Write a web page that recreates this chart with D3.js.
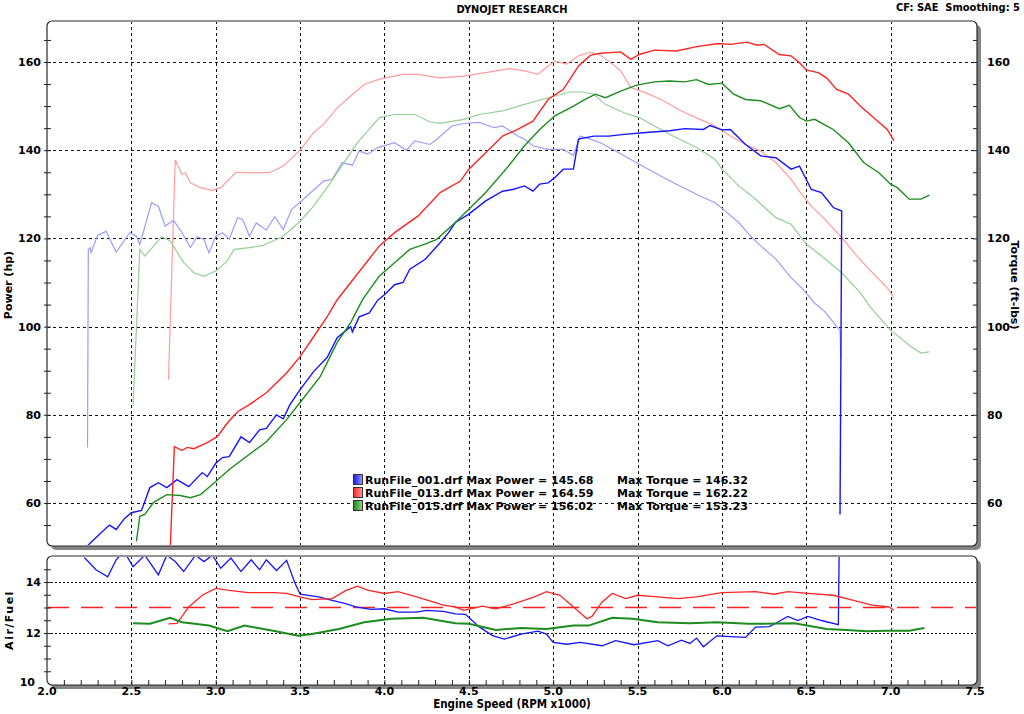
<!DOCTYPE html>
<html>
<head>
<meta charset="utf-8">
<script src="https://cdn.jsdelivr.net/npm/d3@7"></script>
<style>
body { margin: 0; background: #fff; }
text { font-family: "DejaVu Sans", Verdana, sans-serif; font-weight: bold; fill: #000; }
</style>
</head>
<body>
<div id="chart"></div>
<script>
// run names + summary numbers for the legend
var runNames = ["RunFile_001.drf", "RunFile_013.drf", "RunFile_015.drf"];
var maxPower = ["145.68", "164.59", "156.02"];
var maxTorque = ["146.32", "162.22", "153.23"];

// tick labels
var xTicks = [2.0, 2.5, 3.0, 3.5, 4.0, 4.5, 5.0, 5.5, 6.0, 6.5, 7.0, 7.5];
var hpTicks = [60, 80, 100, 120, 140, 160];
var afrTicks = [10, 12, 14];

// [rpm x1000, value]
var power001 = [[2.23,49.5],[2.24,50.3],[2.30,52.5],[2.37,55],[2.41,54],[2.46,56.5],[2.50,57.8],[2.56,58.3],[2.61,63.5],[2.66,64.6],[2.71,63.5],[2.77,65.3],[2.84,63.7],[2.92,66.9],[2.95,66],[3.00,69],[3.04,70.3],[3.08,70.5],[3.15,75],[3.20,73.7],[3.26,76.6],[3.30,76.9],[3.36,80],[3.40,79.1],[3.44,82.3],[3.50,85.7],[3.58,89.8],[3.66,93],[3.72,97.5],[3.80,100],[3.81,98.8],[3.85,102.2],[3.91,103.1],[3.96,106],[4.0,107.2],[4.06,109.5],[4.11,110],[4.15,113],[4.24,115.2],[4.33,119],[4.38,121.3],[4.42,123.6],[4.50,125.5],[4.60,128.5],[4.70,130.7],[4.76,131.1],[4.83,131.9],[4.88,130.7],[4.92,132.3],[4.97,132.6],[5.01,133.8],[5.06,135.7],[5.12,135.7],[5.13,138],[5.15,142.5],[5.24,143.2],[5.33,143.2],[5.42,143.6],[5.55,144],[5.69,144.4],[5.78,144.9],[5.89,144.7],[5.93,145.6],[6.0,144.6],[6.05,144.7],[6.14,141.3],[6.23,138.7],[6.32,138.3],[6.41,135.7],[6.46,136.4],[6.53,131.1],[6.59,130.4],[6.66,127],[6.71,126.2],[6.70,57.4]];
var torque001 = [[2.24,72.6],[2.245,117.5],[2.256,117.9],[2.26,116.7],[2.30,120.7],[2.35,121.6],[2.41,116.9],[2.49,121.3],[2.53,120.5],[2.55,118.6],[2.62,128.1],[2.66,127.3],[2.70,122.8],[2.75,124.1],[2.80,121.3],[2.85,117.9],[2.89,120.4],[2.93,119.8],[2.96,116.7],[3.0,120.5],[3.04,121.3],[3.08,119.8],[3.13,124.7],[3.16,124.3],[3.20,120.5],[3.24,123.5],[3.30,121.9],[3.35,124.9],[3.40,122],[3.45,126.6],[3.50,128.2],[3.56,130.3],[3.64,133],[3.69,133.4],[3.75,137.2],[3.81,136.6],[3.85,139.8],[3.90,139.1],[3.96,140.6],[4.06,141.7],[4.13,140],[4.18,142.1],[4.27,141.3],[4.31,142.5],[4.40,145.5],[4.46,146],[4.56,146.3],[4.65,145.1],[4.70,145.5],[4.79,143.2],[4.83,142.5],[4.88,141],[4.97,140.2],[5.06,140.2],[5.12,138.8],[5.16,143.2],[5.22,142.5],[5.28,141.7],[5.37,139.8],[5.51,136.8],[5.64,134.1],[5.73,132.3],[5.87,129.6],[5.96,128.1],[6.0,126.8],[6.10,123.6],[6.16,120.9],[6.23,118.3],[6.32,115.3],[6.41,111.1],[6.48,108.5],[6.55,105.3],[6.61,103.4],[6.68,100],[6.70,99.2],[6.705,92.8]];
var power013 = [[2.73,49.5],[2.755,72.8],[2.80,71.9],[2.83,72.6],[2.87,72.3],[2.95,73.7],[3.01,75.1],[3.07,78.2],[3.13,80.7],[3.20,82.3],[3.30,85],[3.42,89.5],[3.50,93.2],[3.58,97.7],[3.66,102.2],[3.72,106.1],[3.97,118.3],[4.06,121.3],[4.20,125.1],[4.33,130.4],[4.45,133],[4.50,135.7],[4.60,139.4],[4.70,143.2],[4.79,144.7],[4.88,146.6],[4.97,151.5],[5.06,153.8],[5.10,156.1],[5.15,159.1],[5.22,161.5],[5.28,162],[5.40,162.3],[5.46,160.6],[5.51,161.7],[5.60,162.7],[5.73,162.5],[5.85,163.5],[5.98,164.2],[6.05,164],[6.15,164.5],[6.21,163.8],[6.25,164],[6.34,161.7],[6.41,161.4],[6.46,159.8],[6.50,158.2],[6.57,157.6],[6.62,156.4],[6.68,153.8],[6.75,152.7],[6.82,150],[6.91,147],[6.98,144.7],[7.02,142.1]];
var torque013 = [[2.72,88],[2.76,137.8],[2.80,134.5],[2.82,134.9],[2.85,132.6],[2.91,131.5],[2.98,130.9],[3.03,131.5],[3.12,135],[3.18,134.9],[3.32,134.9],[3.40,136.4],[3.50,140],[3.58,144],[3.64,145.9],[3.72,149.6],[3.80,152.3],[3.88,154.9],[3.97,156.1],[4.11,157.2],[4.20,157.2],[4.33,156.4],[4.47,156.8],[4.60,157.6],[4.74,158.5],[4.83,158],[4.91,157.2],[4.97,159.1],[5.01,160.2],[5.08,159.5],[5.15,161.4],[5.22,162.2],[5.27,161.7],[5.33,160.2],[5.40,158],[5.46,154.2],[5.55,153],[5.64,151.5],[5.76,148.9],[5.87,147],[5.96,145.5],[6.05,143.2],[6.14,141.3],[6.23,139.8],[6.32,137.2],[6.41,133.4],[6.48,129.6],[6.53,127.3],[6.59,125.1],[6.71,120.2],[6.80,116],[6.91,111.5],[6.98,108.8],[7.02,106.6]];
var power015 = [[2.53,51.3],[2.55,57],[2.58,57.4],[2.63,60.1],[2.71,61.9],[2.79,61.7],[2.85,61.2],[2.91,61.9],[2.98,64.2],[3.08,67.6],[3.18,70.5],[3.30,73.9],[3.42,78.9],[3.50,82.8],[3.62,88.7],[3.72,96.4],[3.80,100.9],[3.87,106.1],[3.97,111.5],[4.06,114.5],[4.15,117.5],[4.24,118.7],[4.31,119.8],[4.42,123.6],[4.50,126.6],[4.60,130.4],[4.72,135.7],[4.83,141],[4.92,144.7],[5.01,147.8],[5.12,150],[5.19,151.5],[5.25,152.7],[5.31,151.9],[5.40,153.4],[5.49,154.7],[5.60,155.5],[5.69,155.7],[5.78,155.5],[5.85,156.0],[5.92,154.9],[6.0,155.2],[6.07,152.7],[6.14,151.5],[6.23,151.2],[6.34,149.4],[6.40,150.2],[6.46,147.4],[6.50,146.6],[6.55,147],[6.66,144.7],[6.75,141.7],[6.84,137.2],[6.93,134.9],[7.0,132.3],[7.04,131.5],[7.11,128.9],[7.18,128.9],[7.23,129.8]];
var torque015 = [[2.51,82],[2.55,117.5],[2.58,116],[2.63,118.2],[2.68,120.4],[2.73,119.4],[2.81,114.5],[2.87,112.2],[2.93,111.4],[3.0,112.6],[3.06,114.5],[3.11,117.5],[3.20,117.9],[3.28,118.4],[3.40,120.5],[3.50,123.9],[3.58,127.3],[3.68,132.6],[3.76,137.2],[3.84,141.7],[3.97,147.4],[4.06,148.1],[4.18,148.1],[4.27,146.4],[4.33,146.1],[4.47,147],[4.56,148.1],[4.70,148.9],[4.83,150.4],[4.97,151.9],[5.10,153.2],[5.17,153.2],[5.24,152.7],[5.31,150.4],[5.42,148.5],[5.51,147.4],[5.60,145.5],[5.71,143.2],[5.85,140.6],[5.96,137.9],[6.0,135.7],[6.10,131.9],[6.19,129.2],[6.32,124.7],[6.41,123.2],[6.50,118.7],[6.59,116],[6.71,112.2],[6.82,107.7],[6.88,104.4],[7.0,99.2],[7.12,95.5],[7.18,94],[7.23,94.3]];
var afr001 = [[2.22,14.95],[2.23,14.9],[2.29,14.48],[2.36,14.2],[2.41,14.87],[2.44,15.1],[2.47,15.05],[2.51,14.6],[2.58,15.05],[2.66,14.28],[2.71,15.05],[2.76,14.8],[2.81,14.41],[2.88,15.05],[2.93,14.8],[2.98,15.05],[3.03,14.54],[3.09,14.94],[3.15,14.41],[3.21,14.87],[3.26,14.48],[3.30,14.87],[3.36,14.45],[3.42,14.85],[3.47,13.95],[3.50,13.52],[3.61,13.42],[3.69,13.28],[3.77,13.15],[3.83,13.02],[3.92,12.93],[4.0,12.95],[4.08,12.82],[4.19,12.82],[4.25,12.89],[4.35,12.85],[4.42,12.75],[4.48,12.73],[4.56,12.25],[4.64,11.9],[4.71,11.76],[4.81,11.96],[4.91,12.07],[4.96,11.96],[5.0,11.63],[5.08,11.56],[5.16,11.63],[5.29,11.5],[5.37,11.7],[5.48,11.54],[5.62,11.7],[5.68,11.5],[5.76,11.72],[5.81,11.59],[5.85,11.8],[5.89,11.46],[5.97,11.89],[6.08,11.85],[6.14,11.83],[6.20,12.23],[6.28,12.25],[6.33,12.42],[6.39,12.65],[6.45,12.49],[6.51,12.65],[6.59,12.49],[6.69,12.33],[6.695,15.2]];
var afr013 = [[2.72,12.36],[2.77,12.38],[2.84,13.02],[2.92,13.48],[3.0,13.75],[3.07,13.68],[3.19,13.58],[3.34,13.58],[3.42,13.55],[3.50,13.42],[3.57,13.31],[3.69,13.35],[3.77,13.66],[3.84,13.84],[3.90,13.68],[4.0,13.55],[4.08,13.62],[4.19,13.42],[4.35,13.09],[4.42,13.02],[4.47,12.89],[4.58,13.05],[4.66,12.95],[4.77,13.15],[4.89,13.42],[4.96,13.62],[5.04,13.48],[5.12,13.02],[5.20,12.56],[5.23,12.65],[5.29,13.22],[5.35,13.55],[5.43,13.35],[5.50,13.48],[5.62,13.42],[5.74,13.35],[5.85,13.42],[6.0,13.58],[6.20,13.62],[6.31,13.52],[6.39,13.62],[6.51,13.55],[6.66,13.48],[6.78,13.28],[6.89,13.09],[6.99,13.02],[7.02,12.89]];
var afr015 = [[2.51,12.38],[2.61,12.36],[2.73,12.6],[2.80,12.42],[2.96,12.29],[3.07,12.07],[3.17,12.29],[3.34,12.09],[3.49,11.89],[3.57,11.96],[3.73,12.16],[3.88,12.42],[4.04,12.56],[4.23,12.6],[4.42,12.38],[4.50,12.36],[4.66,12.12],[4.81,12.2],[4.96,12.16],[5.12,12.29],[5.21,12.29],[5.35,12.6],[5.47,12.56],[5.62,12.42],[5.81,12.38],[5.97,12.42],[6.16,12.36],[6.43,12.38],[6.62,12.16],[6.74,12.12],[6.86,12.07],[6.97,12.09],[7.11,12.09],[7.20,12.2]];
var targetAfr = 13;

var w = 1024, h = 714;
var panelL = 47, panelR = 977;
var topT = 21, topB = 546;   // power / torque panel
var botT = 556, botB = 685;  // air/fuel panel

var darkColors = ["#1414ff", "#ff2424", "#1c8c1c"];
var lightColors = ["#9c9cff", "#ff9c9c", "#94cf94"];

var xScale = d3.scaleLinear().domain([2.0, 7.5]).range([47, 975]);
var yScale = d3.scaleLinear().domain([60, 160]).range([503, 62]);
var afrScale = d3.scaleLinear().domain([10, 15]).range([684, 556.5]);

var svg = d3.select("#chart").append("svg")
    .attr("width", w)
    .attr("height", h);

var defs = svg.append("defs");
defs.append("clipPath").attr("id", "clipTop")
    .append("rect").attr("x", panelL + 1).attr("y", topT + 1)
    .attr("width", panelR - panelL - 2).attr("height", topB - topT - 2);
defs.append("clipPath").attr("id", "clipBot")
    .append("rect").attr("x", panelL + 1).attr("y", botT + 1)
    .attr("width", panelR - panelL - 2).attr("height", botB - botT - 2);

darkColors.forEach(function(c, i) {
  var g = defs.append("linearGradient").attr("id", "sw" + i);
  g.append("stop").attr("offset", "0%").attr("stop-color", c);
  g.append("stop").attr("offset", "100%").attr("stop-color", lightColors[i]);
});

// panels with grey drop shadow on right/bottom
function panel(t, b) {
  svg.append("rect")
    .attr("x", panelL + 4).attr("y", t + 4)
    .attr("width", panelR - panelL).attr("height", b - t)
    .attr("rx", 5).attr("fill", "#858585");
  svg.append("rect")
    .attr("x", panelL).attr("y", t)
    .attr("width", panelR - panelL).attr("height", b - t)
    .attr("rx", 5).attr("fill", "#fff")
    .attr("stroke", "#2a2a2a").attr("stroke-width", 1.2);
}
panel(topT, topB);
panel(botT, botB);

// grid lines
var gridX = xTicks.filter(function(d) { return d > 2.0 && d < 7.5; });
var gTop = svg.append("g").attr("clip-path", "url(#clipTop)");
var gBot = svg.append("g").attr("clip-path", "url(#clipBot)");

gTop.selectAll("line.vx").data(gridX).enter().append("line")
  .attr("x1", function(d) { return Math.round(xScale(d)) + 0.5; })
  .attr("x2", function(d) { return Math.round(xScale(d)) + 0.5; })
  .attr("y1", topT).attr("y2", topB)
  .attr("stroke", "#111").attr("stroke-dasharray", "3,3");
gTop.selectAll("line.hy").data(hpTicks).enter().append("line")
  .attr("x1", panelL).attr("x2", panelR)
  .attr("y1", function(d) { return Math.round(yScale(d)) + 0.5; })
  .attr("y2", function(d) { return Math.round(yScale(d)) + 0.5; })
  .attr("stroke", "#111").attr("stroke-dasharray", "3,3");

gBot.selectAll("line.vx").data(gridX).enter().append("line")
  .attr("x1", function(d) { return Math.round(xScale(d)) + 0.5; })
  .attr("x2", function(d) { return Math.round(xScale(d)) + 0.5; })
  .attr("y1", botT).attr("y2", botB)
  .attr("stroke", "#111").attr("stroke-dasharray", "3,3");
gBot.selectAll("line.hy").data([12, 14]).enter().append("line")
  .attr("x1", panelL).attr("x2", panelR)
  .attr("y1", function(d) { return Math.round(afrScale(d)) + 0.5; })
  .attr("y2", function(d) { return Math.round(afrScale(d)) + 0.5; })
  .attr("stroke", "#111").attr("stroke-dasharray", "2,2");

// curves
var hpLine = d3.line()
  .x(function(d) { return xScale(d[0]); })
  .y(function(d) { return yScale(d[1]); });
var afrLine = d3.line()
  .x(function(d) { return xScale(d[0]); })
  .y(function(d) { return afrScale(d[1]); });

[torque001, torque013, torque015].forEach(function(s, i) {
  gTop.append("path").datum(s).attr("d", hpLine)
    .attr("fill", "none").attr("stroke", lightColors[i]).attr("stroke-width", 1.2);
});
[power001, power013, power015].forEach(function(s, i) {
  gTop.append("path").datum(s).attr("d", hpLine)
    .attr("fill", "none").attr("stroke", darkColors[i]).attr("stroke-width", 1.4);
});

// target air/fuel
gBot.append("line")
  .attr("x1", panelL).attr("x2", panelR)
  .attr("y1", afrScale(targetAfr)).attr("y2", afrScale(targetAfr))
  .attr("stroke", "#ff2020").attr("stroke-width", 1.3)
  .attr("stroke-dasharray", "22,12");

[afr001, afr013, afr015].forEach(function(s, i) {
  gBot.append("path").datum(s).attr("d", afrLine)
    .attr("fill", "none").attr("stroke", darkColors[i])
    .attr("stroke-width", i == 2 ? 2 : 1.3);
});

// axes
var hpAll = d3.range(55, 170, 5);
var leftAxis = d3.axisLeft(yScale).tickValues(hpAll).tickSize(7).tickPadding(3)
  .tickFormat(function(d) { return d % 20 == 0 ? d : ""; });
svg.append("g").attr("transform", "translate(51,0)").call(leftAxis)
  .call(function(g) { g.select(".domain").remove(); });

var rightAxis = d3.axisRight(yScale).tickValues(hpAll).tickSize(4).tickPadding(10)
  .tickFormat(function(d) { return d % 20 == 0 ? d : ""; });
svg.append("g").attr("transform", "translate(973,0)").call(rightAxis)
  .call(function(g) { g.select(".domain").remove(); });

var afrAxis = d3.axisLeft(afrScale).tickValues(d3.range(10.5, 15, 0.5)).tickSize(7).tickPadding(3)
  .tickFormat(function(d) { return afrTicks.indexOf(d) >= 0 ? d : ""; });
svg.append("g").attr("transform", "translate(51,0)").call(afrAxis)
  .call(function(g) { g.select(".domain").remove(); });
// "10" sits just left of the "2.0" x label
svg.append("text").attr("x", 35).attr("y", 686)
  .attr("text-anchor", "end").attr("font-size", "11px").text(afrTicks[0]);

var xAxis = d3.axisBottom(xScale).tickValues(d3.range(2.1, 7.45, 0.1)).tickSize(5).tickPadding(2)
  .tickFormat(function(d) { return ""; });
svg.append("g").attr("transform", "translate(0,680)").call(xAxis)
  .call(function(g) { g.select(".domain").remove(); });
svg.selectAll("text.xl").data(xTicks).enter().append("text")
  .attr("class", "xl")
  .attr("x", function(d) { return xScale(d); })
  .attr("y", 695)
  .attr("text-anchor", "middle")
  .attr("font-size", "11px")
  .text(function(d) { return d3.format(".1f")(d); });

svg.selectAll(".tick text").attr("font-size", "11px")
  .style("font-family", "'DejaVu Sans', Verdana, sans-serif").style("font-weight", "bold");
svg.selectAll(".tick line").attr("stroke", "#222");

// titles
svg.append("text").attr("x", 512).attr("y", 13)
  .attr("text-anchor", "middle").attr("font-size", "11px")
  .style("font-stretch", "condensed")
  .text("DYNOJET RESEARCH");
svg.append("text").attr("x", 1020).attr("y", 11)
  .attr("text-anchor", "end").attr("font-size", "11px")
  .style("font-stretch", "condensed")
  .style("white-space", "pre")
  .text("CF: SAE  Smoothing: 5");
svg.append("text").attr("x", 512).attr("y", 708)
  .attr("text-anchor", "middle").attr("font-size", "11.5px")
  .style("font-stretch", "condensed")
  .text("Engine Speed (RPM x1000)");
svg.append("text").attr("transform", "translate(12,285) rotate(-90)")
  .attr("text-anchor", "middle").attr("font-size", "11px")
  .text("Power (hp)");
svg.append("text").attr("transform", "translate(1011,285) rotate(90)")
  .attr("text-anchor", "middle").attr("font-size", "11px")
  .text("Torque (ft-lbs)");
svg.append("text").attr("transform", "translate(13,620) rotate(-90)")
  .attr("text-anchor", "middle").attr("font-size", "11px")
  .style("letter-spacing", "1.5px")
  .text("Air/Fuel");

// legend
var leg = svg.append("g");
runNames.forEach(function(name, i) {
  var y = 480 + i * 13;
  leg.append("rect").attr("x", 353.5).attr("y", y - 5.5)
    .attr("width", 9).attr("height", 10)
    .attr("fill", "url(#sw" + i + ")").attr("stroke", "#333");
  leg.append("text").attr("x", 365).attr("y", y + 4)
    .attr("font-size", "11px")
    .text(name + " Max Power = " + maxPower[i]);
  leg.append("text").attr("x", 617).attr("y", y + 4)
    .attr("font-size", "11px")
    .text("Max Torque = " + maxTorque[i]);
});
</script>
</body>
</html>
